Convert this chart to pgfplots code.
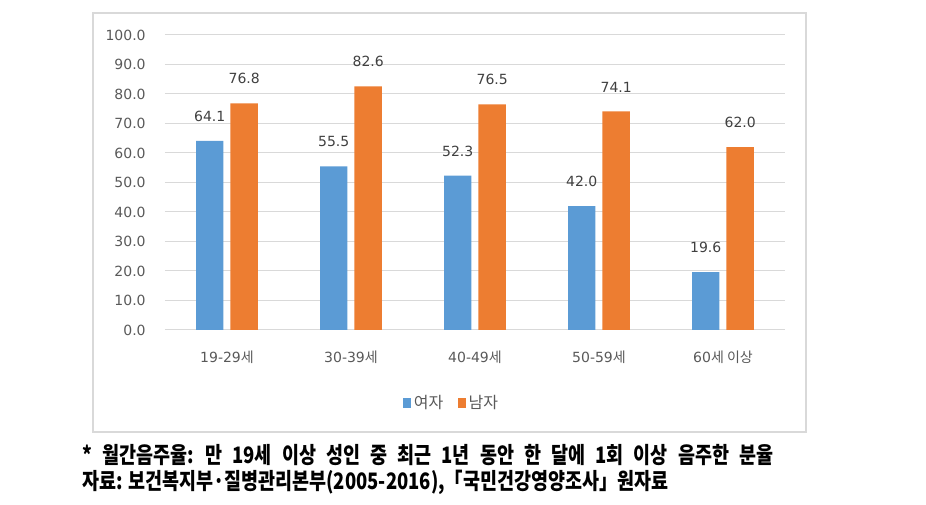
\documentclass[border=0pt]{standalone}
\usepackage{fontspec}
\setmainfont{DejaVu Sans}
\newfontfamily\kr{Noto Sans CJK KR}
\usepackage{graphicx}
\usepackage{pgfplots}
\pgfplotsset{compat=1.18}

\definecolor{fem}{HTML}{5B9BD5}
\definecolor{male}{HTML}{ED7D31}
\definecolor{txt}{HTML}{595959}
\definecolor{lbl}{HTML}{404040}
\definecolor{grd}{HTML}{D9D9D9}

\begin{document}
\begin{tikzpicture}[x=0.75pt,y=0.75pt]
\useasboundingbox (0,0) rectangle (926,505);
% chart frame
\draw[color=grd, line width=0.9pt] (93,73) rectangle (806,492);
\begin{axis}[
    at={(123.75pt,131.25pt)}, anchor=south west,
    scale only axis,
    width=465pt, height=221.25pt,
    ymin=0, ymax=100,
    ytick={0,10,...,100},
    xmin=-0.5, xmax=4.5,
    xtick={0,1,2,3,4},
    xticklabels={19-29{\kr 세},30-39{\kr 세},40-49{\kr 세},50-59{\kr 세},60{\kr 세 이상}},
    ybar=5.25pt, bar width=20.6pt,
    axis line style={draw=none},
    major tick length=0pt,
    ymajorgrids,
    grid style={grd, line width=0.75pt},
    tick label style={font=\fontsize{10.5}{12}\selectfont, text=txt},
    yticklabel style={xshift=-11pt,
        /pgf/number format/fixed, /pgf/number format/fixed zerofill,
        /pgf/number format/precision=1, /pgf/number format/assume math mode=true},
    xticklabel style={yshift=-12pt},
    nodes near coords={\pgfmathprintnumber[fixed,fixed zerofill,precision=1,assume math mode=true]{\pgfplotspointmeta}},
    every node near coord/.append style={font=\fontsize{10.5}{12}\selectfont, text=lbl, yshift=11pt},
    legend style={at={(0.463,-0.247)}, anchor=center, draw=none, fill=none,
        legend columns=2, font=\kr\fontsize{12}{14}\selectfont, text=txt,
        /tikz/every even column/.append style={column sep=9pt}},
    legend image code/.code={\fill[#1,draw=none] (0pt,-3.5pt) rectangle (6pt,3.5pt);},
]
\addplot[fill=fem, draw=none] coordinates {(0,64.1) (1,55.5) (2,52.3) (3,42.0) (4,19.6)};
\addlegendentry{여자}
\addplot[fill=male, draw=none] coordinates {(0,76.8) (1,82.6) (2,76.5) (3,74.1) (4,62.0)};
\addlegendentry{남자}
\end{axis}
% footnotes
\node[anchor=west, inner sep=0pt, font=\kr\bfseries\fontsize{17}{19}\selectfont] at (82,50)
  {\scalebox{0.815}[1]{\spaceskip=0.55em * 월간음주율: 만 19세 이상 성인 중 최근 1년 동안 한 달에 1회 이상 음주한 분율}};
\node[anchor=west, inner sep=0pt, font=\kr\bfseries\fontsize{17}{19}\selectfont] at (82,23)
  {\scalebox{0.815}[1]{자료: 보건복지부·질병관리본부(2005-2016),「국민건강영양조사」원자료}};
\end{tikzpicture}
\end{document}
